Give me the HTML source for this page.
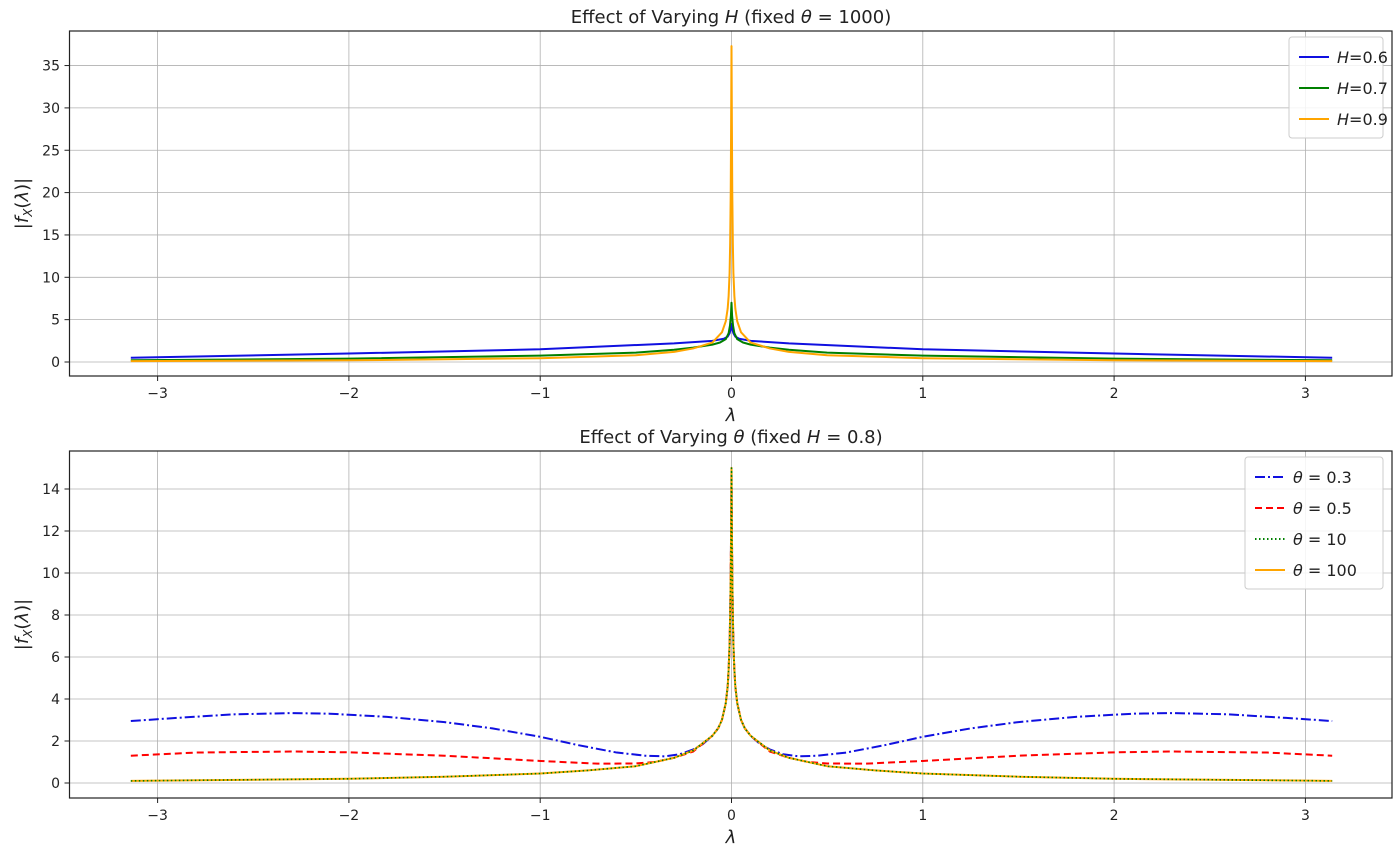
<!DOCTYPE html>
<html><head><meta charset="utf-8"><style>
body{margin:0;background:#fff}
text{font-family:"DejaVu Sans","Liberation Sans",sans-serif;fill:#222}
</style></head><body>
<svg id="s" width="1400" height="853" xmlns="http://www.w3.org/2000/svg"></svg>
<script>
const S=document.getElementById('s');let h='';
const X=v=>731.5+v*191.3;
function axes(top,bot,y0,ppu,yt,title,xl){
  const Y=v=>y0-v*ppu;
  for(let t=-3;t<=3;t++){h+=`<line x1="${X(t)}" y1="${top}" x2="${X(t)}" y2="${bot}" stroke="#b0b0b0" stroke-width="0.8"/>`;
   h+=`<line x1="${X(t)}" y1="${bot}" x2="${X(t)}" y2="${bot+5}" stroke="#222"/><text x="${X(t)}" y="${bot+22}" font-size="14" text-anchor="middle">${t<0?'\u2212'+(-t):t}</text>`;}
  yt.forEach(t=>{h+=`<line x1="69.5" y1="${Y(t)}" x2="1392" y2="${Y(t)}" stroke="#b0b0b0" stroke-width="0.8"/><line x1="64.5" y1="${Y(t)}" x2="69.5" y2="${Y(t)}" stroke="#222"/><text x="60" y="${Y(t)+5}" font-size="14" text-anchor="end">${t}</text>`;});
  h+=`<text x="731" y="${top-8}" font-size="18" text-anchor="middle">${title}</text>`;
  h+=`<text x="731" y="${bot+45}" font-size="18" text-anchor="middle" font-style="italic">λ</text>`;
  h+=`<text transform="translate(28,${(top+bot)/2}) rotate(-90)" font-size="18" text-anchor="middle">|<tspan font-style="italic">f</tspan><tspan font-size="12" dy="4" font-style="italic">X</tspan><tspan dy="-4">(</tspan><tspan font-style="italic">λ</tspan>)|</text>`;
  return Y;
}
function curve(Y,pts,col,dash,w){
  const full=[];for(let i=pts.length-1;i>0;i--)full.push([-pts[i][0],pts[i][1]]);pts.forEach(p=>full.push(p));
  let d='';
  for(let i=0;i<full.length;i++){d+=(d?'L':'M')+X(full[i][0]).toFixed(2)+','+Y(full[i][1]).toFixed(2);}
  h+=`<path d="${d}" fill="none" stroke="${col}" stroke-width="${w||2}" stroke-linejoin="round" ${dash?`stroke-dasharray="${dash}"`:''}/>`;
}
function frame(top,bot){h+=`<rect x="69.5" y="${top}" width="1322.5" height="${bot-top}" fill="none" stroke="#222" stroke-width="1.2"/>`;}
let Y=axes(31,376,362,8.47,[0,5,10,15,20,25,30,35],'Effect of Varying <tspan font-style="italic">H</tspan> (fixed <tspan font-style="italic">θ</tspan> = 1000)');
curve(Y,[[0,4.5],[0.005,3.8],[0.01,3.4],[0.02,3.0],[0.04,2.75],[0.1,2.5],[0.3,2.2],[1,1.5],[2,1.0],[3.14,0.5]],'#1010e0');
curve(Y,[[0,7],[0.003,5.5],[0.008,4.3],[0.015,3.4],[0.03,2.7],[0.06,2.3],[0.1,2.05],[0.2,1.7],[0.3,1.45],[0.5,1.1],[1,0.75],[2,0.4],[3.14,0.2]],'green');
curve(Y,[[0,37.3],[0.002,28],[0.004,20],[0.007,14],[0.01,10.5],[0.015,7.8],[0.02,6.3],[0.03,4.8],[0.05,3.5],[0.1,2.3],[0.2,1.6],[0.3,1.2],[0.5,0.8],[1,0.45],[2,0.2],[3.14,0.1]],'orange');
frame(31,376);
Y=axes(451,798,783,21,[0,2,4,6,8,10,12,14],'Effect of Varying <tspan font-style="italic">θ</tspan> (fixed <tspan font-style="italic">H</tspan> = 0.8)');
const core=[[0,15],[0.002,12],[0.004,10],[0.007,8],[0.01,6.6],[0.015,5.4],[0.02,4.6],[0.03,3.8],[0.05,3],[0.07,2.6],[0.1,2.25]];
curve(Y,core.concat([[0.15,1.85],[0.2,1.6],[0.27,1.37],[0.35,1.27],[0.45,1.3],[0.6,1.45],[0.8,1.8],[1,2.2],[1.25,2.6],[1.5,2.9],[1.8,3.15],[2.1,3.3],[2.3,3.33],[2.6,3.27],[2.9,3.1],[3.14,2.95]]),'#1010e0','10,3,2,3');
curve(Y,core.concat([[0.2,1.5],[0.3,1.2],[0.4,1.0],[0.5,0.93],[0.7,0.92],[1,1.05],[1.5,1.3],[2,1.46],[2.3,1.5],[2.8,1.45],[3.14,1.3]]),'red','7,4');
const tail=core.concat([[0.2,1.55],[0.3,1.2],[0.5,0.8],[0.75,0.6],[1,0.45],[1.5,0.3],[2,0.2],[3.14,0.1]]);
curve(Y,tail,'orange',null,2);
curve(Y,tail,'green','1.5,2.5',1.6);
frame(451,798);
function leg(x,y,w,items){h+=`<rect x="${x}" y="${y}" width="${w}" height="${items.length*31+8}" rx="3" fill="#fff" fill-opacity="0.85" stroke="#ccc"/>`;
 items.forEach((it,i)=>{const yy=y+20+i*31;h+=`<line x1="${x+10}" y1="${yy}" x2="${x+40}" y2="${yy}" stroke="${it[1]}" stroke-width="2" ${it[2]?`stroke-dasharray="${it[2]}"`:''}/><text x="${x+48}" y="${yy+6}" font-size="16">${it[0]}</text>`;});}
leg(1289,37,94,[['<tspan font-style="italic">H</tspan>=0.6','#1010e0'],['<tspan font-style="italic">H</tspan>=0.7','green'],['<tspan font-style="italic">H</tspan>=0.9','orange']]);
leg(1245,457,138,[['<tspan font-style="italic">θ</tspan> = 0.3','#1010e0','10,3,2,3'],['<tspan font-style="italic">θ</tspan> = 0.5','red','7,4'],['<tspan font-style="italic">θ</tspan> = 10','green','1.5,2.5'],['<tspan font-style="italic">θ</tspan> = 100','orange']]);
S.innerHTML=h;
</script>
</body></html>
